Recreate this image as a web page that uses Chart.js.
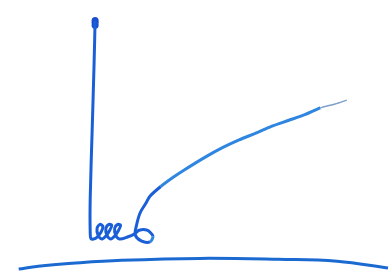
<!DOCTYPE html>
<html lang="en">
<head>
    <meta charset="UTF-8">
    <title>Sketch</title>
    <script src="https://cdn.jsdelivr.net/npm/chart.js"></script>
    <style>
        html, body { margin: 0; padding: 0; background: #fff; }
        #wrap { width: 392px; height: 275px; }
    </style>
</head>
<body>
    <div id="wrap"><canvas id="sketchChart" width="392" height="275"></canvas></div>

    <script>
        // main stroke: down the axis, the little loops, then the rising curve
        const strokeX = [93, 92, 90, 88, 88, 89, 94, 99, 101, 98, 95, 96, 100, 104, 108, 110, 107, 104, 105, 109, 113, 117, 119, 116, 113, 114, 118, 126, 133, 138, 146, 152, 149, 140, 134, 135, 139, 145, 149, 160, 172, 184, 205, 223, 240, 257, 273, 290, 307, 323, 338, 350];
        const strokeY = [258, 215, 145, 75, 40, 33, 34, 40, 46, 48, 44, 37, 33, 36, 42, 47, 48, 44, 37, 33, 36, 42, 47, 48, 44, 37, 33, 35, 38, 42, 42, 36, 30, 31, 37, 46, 60, 70, 77, 87, 96, 104, 117, 127, 135, 142, 149, 155, 161, 168, 172, 176];
        // blob at the top of the axis
        const tipX = [93, 93, 93];
        const tipY = [258, 256, 253];
        // the ground line
        const groundX = [15, 35, 70, 120, 200, 280, 340, 392];
        const groundY = [2, 5, 8, 11, 13, 12, 10, 3];

        const pts = (xs, ys) => xs.map((x, i) => ({ x: x, y: ys[i] }));

        const ctx = document.getElementById('sketchChart').getContext('2d');
        new Chart(ctx, {
            type: 'scatter',
            data: {
                datasets: [{
                    data: pts(strokeX, strokeY),
                    showLine: true,
                    borderColor: '#1a5fd8',
                    borderWidth: 3,
                    tension: 0.3,
                    pointRadius: 0,
                    clip: false,
                    segment: {
                        borderColor: c => c.p0.parsed.x > 150 ? (c.p0.parsed.x > 320 ? '#7f9fc8' : '#2f86e0') : '#1a5fd8',
                        borderWidth: c => c.p0.parsed.x > 320 ? 1.5 : 3
                    }
                }, {
                    data: pts(tipX, tipY),
                    pointRadius: 3.5,
                    pointStyle: 'circle',
                    borderWidth: 0,
                    backgroundColor: '#1a4fd0',
                    clip: false
                }, {
                    data: pts(groundX, groundY),
                    showLine: true,
                    borderColor: '#1b6ad2',
                    borderWidth: 3,
                    tension: 0.4,
                    pointRadius: 0,
                    clip: false
                }]
            },
            options: {
                responsive: false,
                animation: false,
                layout: { padding: 0 },
                plugins: { legend: { display: false }, tooltip: { enabled: false } },
                scales: {
                    x: { type: 'linear', min: 0, max: 392, display: false },
                    y: { type: 'linear', min: 0, max: 275, display: false }
                }
            }
        });
    </script>
</body>
</html>
